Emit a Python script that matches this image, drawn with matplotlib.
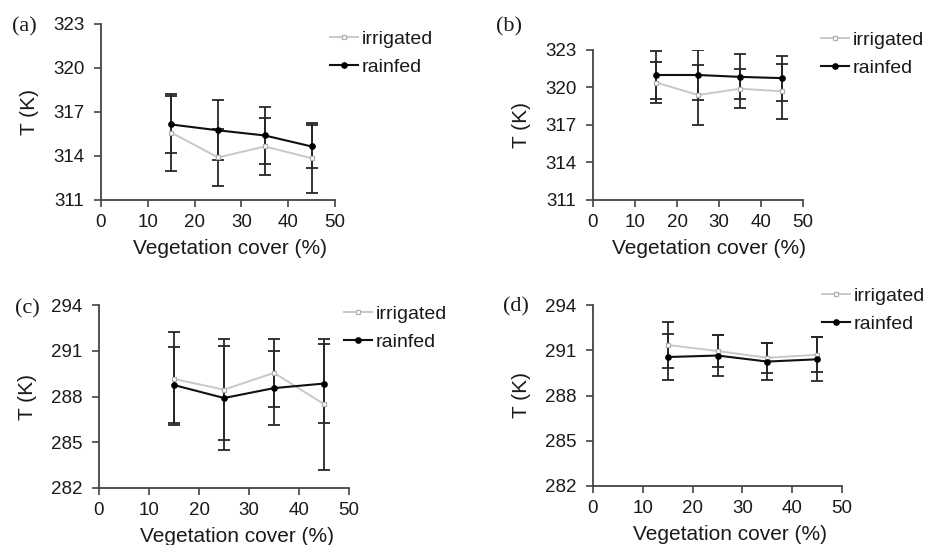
import numpy as np
import matplotlib
matplotlib.use('Agg')
import matplotlib.pyplot as plt

plt.rcParams['font.family'] = ['Liberation Sans', 'DejaVu Sans']

# 植被覆盖度 (%)
cover = [15, 25, 35, 45]

# (a)
a_irr = [315.6, 313.9, 314.65, 313.85]
a_irr_err = [2.6, 1.95, 1.95, 2.4]
a_rain = [316.15, 315.75, 315.4, 314.65]
a_rain_err = [1.95, 2.05, 1.95, 1.45]
# (b)
b_irr = [320.4, 319.4, 319.9, 319.7]
b_irr_err = [1.65, 2.4, 1.55, 2.2]
b_rain = [321.0, 321.0, 320.85, 320.75]
b_rain_err = [1.95, 2.0, 1.8, 1.8]
# (c)
c_irr = [289.15, 288.45, 289.55, 287.5]
c_irr_err = [3.05, 3.3, 2.25, 4.3]
c_rain = [288.75, 287.9, 288.55, 288.85]
c_rain_err = [2.5, 3.4, 2.45, 2.6]
# (d)
d_irr = [291.35, 290.95, 290.5, 290.7]
d_irr_err = [1.5, 1.05, 1.0, 1.15]
d_rain = [290.55, 290.65, 290.25, 290.4]
d_rain_err = [1.5, 1.35, 1.25, 1.45]

xticks = [0, 10, 20, 30, 40, 50]
yticks_top = [311, 314, 317, 320, 323]
yticks_bot = [282, 285, 288, 291, 294]

W, H = 925, 545
fig = plt.figure(figsize=(W / 100, H / 100), dpi=100)


def px_axes(l, r, t, b):
    return fig.add_axes([l / W, 1 - b / H, (r - l) / W, (b - t) / H])


panels = [
    # 坐标轴像素位置, 数据, y刻度, 图例位置, 面板标签位置
    dict(box=(101, 335, 24, 200), irr=a_irr, irr_err=a_irr_err, rain=a_rain, rain_err=a_rain_err,
         yt=yticks_top, leg=(330, 30), tag='(a)', tagpos=(12, 27)),
    dict(box=(593, 803, 50, 200), irr=b_irr, irr_err=b_irr_err, rain=b_rain, rain_err=b_rain_err,
         yt=yticks_top, leg=(821, 31), tag='(b)', tagpos=(496, 27)),
    dict(box=(99, 349, 305, 488), irr=c_irr, irr_err=c_irr_err, rain=c_rain, rain_err=c_rain_err,
         yt=yticks_bot, leg=(344, 305), tag='(c)', tagpos=(15, 309)),
    dict(box=(593, 842, 305, 486), irr=d_irr, irr_err=d_irr_err, rain=d_rain, rain_err=d_rain_err,
         yt=yticks_bot, leg=(822, 287), tag='(d)', tagpos=(503, 307)),
]

for p in panels:
    ax = px_axes(*p['box'])
    ax.errorbar(cover, p['irr'], yerr=p['irr_err'], fmt='none', ecolor='#262626',
                elinewidth=1.3, capsize=4.5, capthick=1.3, zorder=2)
    ax.errorbar(cover, p['rain'], yerr=p['rain_err'], fmt='none', ecolor='#262626',
                elinewidth=1.3, capsize=4.5, capthick=1.3, zorder=2)
    ax.plot(cover, p['irr'], color='#c8c8c8', lw=1.4, marker='s', ms=3.5,
            mfc='white', mec='#b0b0b0', mew=0.9, label='irrigated', zorder=3)
    ax.plot(cover, p['rain'], color='#111111', lw=1.5, marker='o', ms=3.8,
            mfc='black', mec='black', label='rainfed', zorder=4)

    ax.set_xlim(0, 50)
    ax.set_ylim(p['yt'][0], p['yt'][-1])
    ax.set_xticks(xticks)
    ax.set_yticks(p['yt'])
    for s in ['top', 'right']:
        ax.spines[s].set_visible(False)
    for s in ['left', 'bottom']:
        ax.spines[s].set_color('#444444')
        ax.spines[s].set_linewidth(1.3)
    ax.tick_params(direction='out', length=5, width=1.2, color='#444444',
                   labelsize=13.5, labelcolor='#1a1a1a')
    ax.tick_params(axis='y', pad=7)
    ax.tick_params(axis='x', pad=5)
    ax.set_xlabel('Vegetation cover (%)', fontsize=15, color='#1a1a1a', labelpad=6, x=0.55)
    ax.set_ylabel('T (K)', fontsize=15, color='#1a1a1a', labelpad=10)

    lx, ly = p['leg']
    ax.legend(loc='upper left', bbox_to_anchor=(lx / W, 1 - ly / H), bbox_transform=fig.transFigure,
              frameon=False, fontsize=14, handlelength=1.45, handletextpad=0.2,
              borderpad=0, borderaxespad=0, labelspacing=0.55, labelcolor='#1a1a1a')

    tx, ty = p['tagpos']
    fig.text(tx / W, 1 - ty / H, p['tag'], family='Liberation Serif', fontsize=16,
             ha='left', va='center', color='#1a1a1a')

fig.savefig('out.png', dpi=100)
